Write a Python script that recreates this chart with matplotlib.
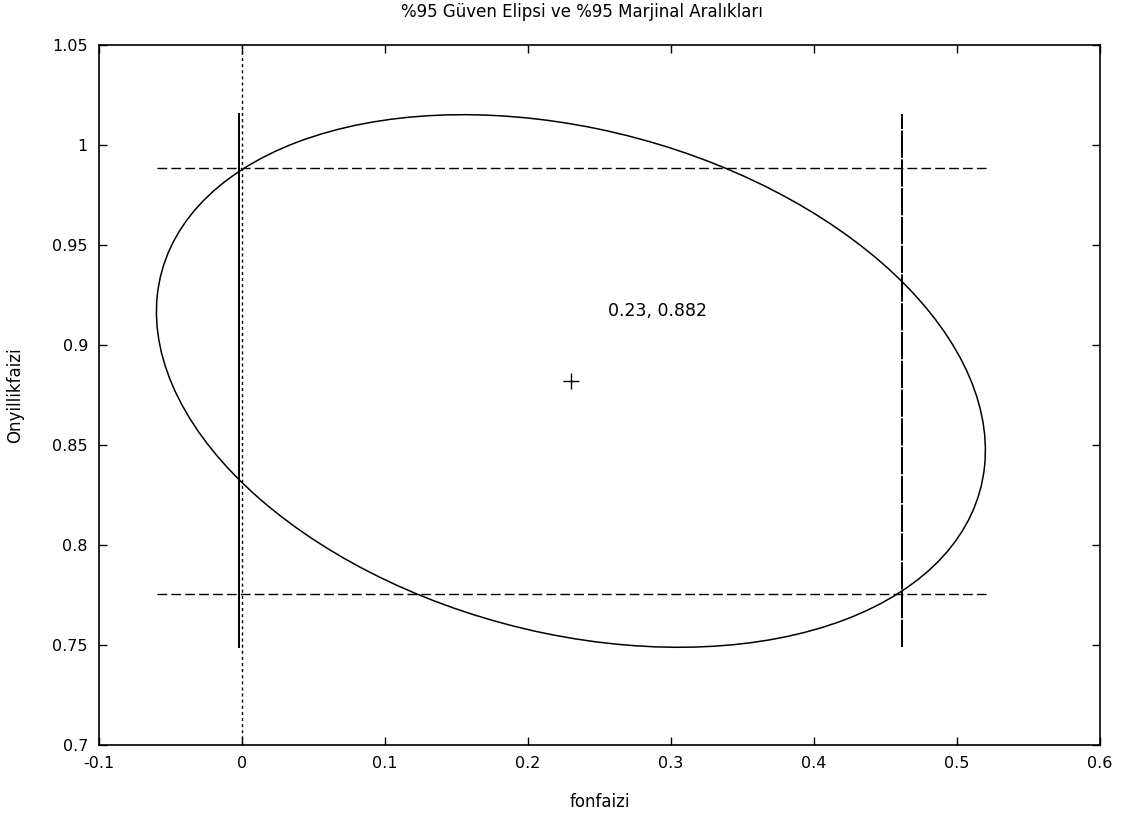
import matplotlib
matplotlib.use("Agg")
import matplotlib.pyplot as plt
import numpy as np
from matplotlib.patches import Ellipse

# estimates
center_x = 0.23
center_y = 0.882
ellipse_x_range = [-0.0594, 0.5203]   # horizontal extent of the 95% ellipse
ellipse_y_range = [0.749, 1.0153]     # vertical extent of the 95% ellipse
correlation = -0.26
ci_x = [-0.0018, 0.4618]              # 95% marginal interval fonfaizi
ci_y = [0.7755, 0.9885]               # 95% marginal interval onyillikfaizi
label_text = "0.23, 0.882"

x_ticks = [-0.1, 0, 0.1, 0.2, 0.3, 0.4, 0.5, 0.6]
x_tick_labels = ["-0.1", "0", "0.1", "0.2", "0.3", "0.4", "0.5", "0.6"]
y_ticks = [0.7, 0.75, 0.8, 0.85, 0.9, 0.95, 1.0, 1.05]
y_tick_labels = ["0.7", "0.75", "0.8", "0.85", "0.9", "0.95", "1", "1.05"]


def ellipse_from_ranges(cx, cy, xr, yr, r):
    # semi-extents of the ellipse along x and y
    a = (xr[1] - xr[0]) / 2
    b = (yr[1] - yr[0]) / 2
    cov = np.array([[a * a, r * a * b], [r * a * b, b * b]])
    vals, vecs = np.linalg.eigh(cov)
    order = vals.argsort()[::-1]
    vals, vecs = vals[order], vecs[:, order]
    angle = np.degrees(np.arctan2(vecs[1, 0], vecs[0, 0]))
    return Ellipse((cx, cy), 2 * np.sqrt(vals[0]), 2 * np.sqrt(vals[1]), angle=angle,
                   fill=False, edgecolor="black", linewidth=1.1)


fig = plt.figure(figsize=(11.29, 8.21), dpi=100)
ax = fig.add_axes([0.0877, 0.0926, 0.8866, 0.8526])

# zero axis
ax.axvline(0, color="black", linewidth=1.0, linestyle=(0, (2.2, 2.2)))

ax.add_patch(ellipse_from_ranges(center_x, center_y, ellipse_x_range, ellipse_y_range, correlation))

# marginal intervals
ax.plot([ci_x[0], ci_x[0]], ellipse_y_range, color="black", linewidth=1.4)
ax.plot([ci_x[1], ci_x[1]], ellipse_y_range, color="black", linewidth=1.4, linestyle=(0, (14, 0.8)))
for yv in ci_y:
    ax.plot(ellipse_x_range, [yv, yv], color="black", linewidth=1.0, linestyle=(0, (7, 3)))

ax.plot([center_x], [center_y], marker="+", markersize=11, markeredgewidth=1.0, color="black")
ax.text(0.256, 0.917, label_text, fontsize=12.5, ha="left", va="center")

ax.set_xlim(-0.1, 0.6)
ax.set_ylim(0.7, 1.05)
ax.set_xticks(x_ticks)
ax.set_xticklabels(x_tick_labels)
ax.set_yticks(y_ticks)
ax.set_yticklabels(y_tick_labels)
ax.tick_params(direction="in", length=6, width=1, top=True, right=True, labelsize=11.5, pad=8)
for s in ax.spines.values():
    s.set_linewidth(1.2)

ax.set_xlabel("fonfaizi", fontsize=12, labelpad=16)
ax.set_ylabel("Onyillikfaizi", fontsize=12, labelpad=20)
ax.set_title("%95 Güven Elipsi ve %95 Marjinal Aralıkları", fontsize=12, pad=20, x=0.4825)

fig.savefig("out.png", dpi=100)
